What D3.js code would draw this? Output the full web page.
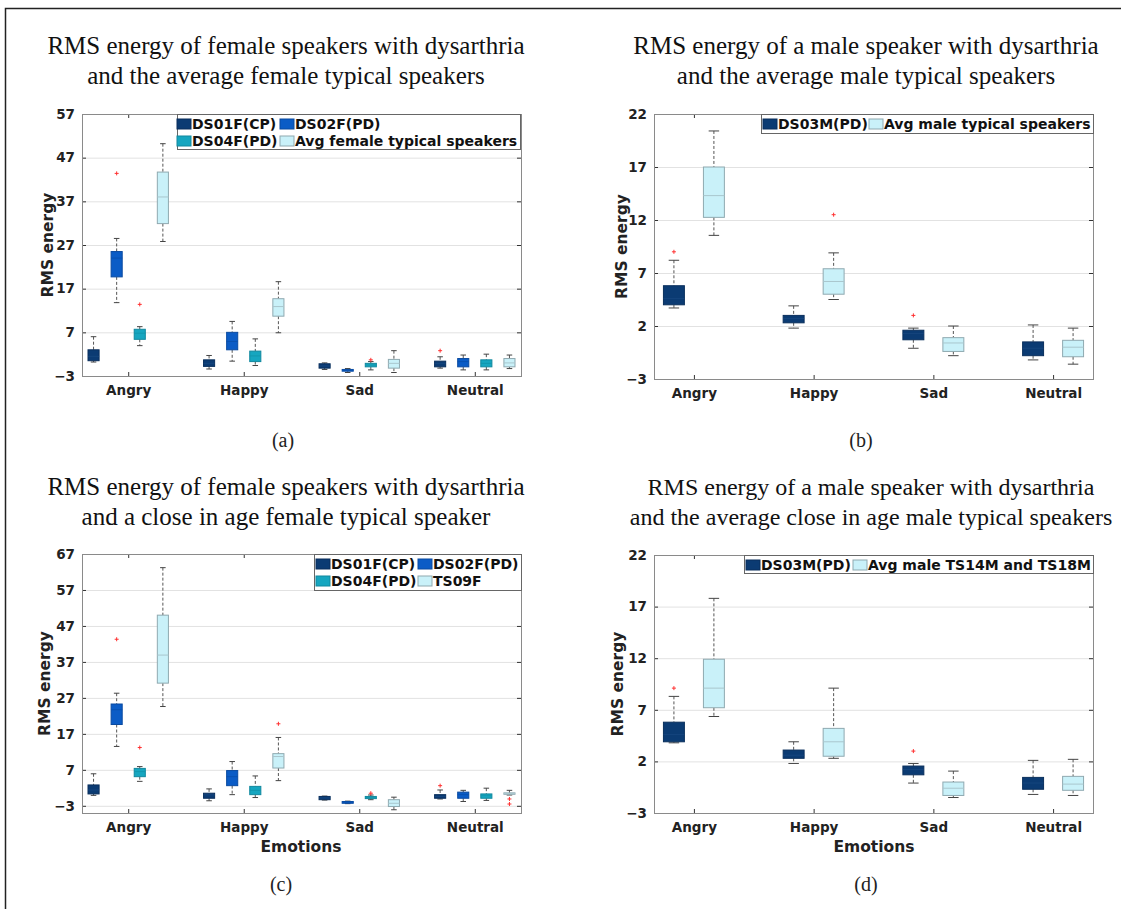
<!DOCTYPE html>
<html>
<head>
<meta charset="utf-8">
<script src="https://cdn.jsdelivr.net/npm/d3@7"></script>
<style>
  body { margin: 0; background: #fff; }
  .tick text { font-family: "DejaVu Sans", sans-serif; font-weight: bold; font-size: 13.5px; fill: #222; }
</style>
</head>
<body>
<div id="chart"></div>
<script>
// categories
const emotions = ["Angry", "Happy", "Sad", "Neutral"];

// box stats per emotion: [lower whisker, q1, median, q3, upper whisker]
// panel (a)
const namesA = ["DS01F(CP)", "DS02F(PD)", "DS04F(PD)", "Avg female typical speakers"];
const a_DS01F = [[0.2, 0.5, 1.5, 3.0, 6.0], [-1.4, -0.8, -0.1, 0.7, 1.7], [-1.5, -1.2, -0.7, -0.2, 0.0], [-1.2, -0.9, -0.1, 0.4, 1.4]];
const a_DS02F = [[13.8, 19.7, 24.0, 25.5, 28.5], [0.4, 3.0, 4.9, 7.0, 9.5], [-2.2, -1.9, -1.7, -1.5, -1.3], [-1.6, -0.9, 0.3, 1.0, 1.8]];
const a_DS04F = [[3.95, 5.4, 6.8, 7.7, 8.3], [-0.6, 0.3, 1.6, 2.7, 5.5], [-1.6, -0.9, -0.5, -0.1, 0.3], [-1.6, -0.9, -0.1, 0.7, 2.0]];
const a_AvgF = [[27.8, 31.9, 38.0, 43.7, 50.2], [6.9, 10.7, 12.9, 14.7, 18.6], [-2.2, -1.2, -0.1, 0.8, 2.8], [-1.3, -0.9, 0.0, 1.0, 1.8]];
// outliers: [series, emotion, value]
const outliersA = [[1, 0, 43.4], [2, 0, 13.4], [2, 2, 0.7], [0, 3, 2.8]];
const ticksA = [-3, 7, 17, 27, 37, 47, 57];

// panel (b)
const namesB = ["DS03M(PD)", "Avg male typical speakers"];
const b_DS03M = [[3.7, 4.0, 4.6, 5.8, 8.2], [1.8, 2.3, 2.7, 3.0, 3.9], [-0.1, 0.7, 1.3, 1.6, 1.8], [-1.2, -0.8, -0.1, 0.5, 2.1]];
const b_AvgM = [[10.55, 12.25, 14.3, 17.0, 20.4], [4.5, 5.0, 6.2, 7.4, 8.9], [-0.8, -0.4, 0.4, 0.9, 2.0], [-1.6, -0.9, 0.0, 0.65, 1.8]];
const outliersB = [[0, 0, 9.0], [1, 1, 12.5], [0, 2, 3.0]];
const ticksB = [-3, 2, 7, 12, 17, 22];

// panel (c)
const namesC = ["DS01F(CP)", "DS02F(PD)", "DS04F(PD)", "TS09F"];
const c_DS01F = [[-0.1, 0.3, 1.4, 2.8, 5.9], [-1.6, -0.9, 0.05, 0.5, 1.7], [-1.4, -1.3, -0.8, -0.4, -0.3], [-1.1, -0.9, -0.4, 0.1, 1.4]];
const c_DS02F = [[13.5, 19.6, 23.7, 25.3, 28.3], [0.1, 2.6, 5.1, 6.8, 9.3], [-2.4, -2.3, -2.0, -1.8, -1.7], [-1.8, -0.9, 0.1, 0.8, 1.3]];
const c_DS04F = [[3.8, 5.1, 6.5, 7.4, 7.9], [-0.7, 0.1, 1.3, 2.4, 5.3], [-1.3, -1.0, -0.7, -0.4, 0.0], [-1.5, -0.9, -0.2, 0.3, 1.9]];
const c_TS09F = [[24.6, 31.1, 38.9, 50.0, 63.2], [4.0, 7.5, 10.7, 11.5, 16.0], [-4.1, -3.2, -2.3, -1.3, -0.6], [0.0, 0.2, 0.4, 0.6, 1.3]];
const outliersC = [[1, 0, 43.3], [2, 0, 13.2], [3, 1, 19.8], [2, 2, 0.5], [0, 3, 2.6], [3, 3, -1.1], [3, 3, -2.5]];
const ticksC = [-3, 7, 17, 27, 37, 47, 57, 67];

// panel (d)
const namesD = ["DS03M(PD)", "Avg male TS14M and TS18M"];
const d_DS03M = [[3.8, 3.9, 4.6, 5.8, 8.3], [1.8, 2.3, 2.6, 3.1, 3.9], [-0.1, 0.7, 1.2, 1.55, 1.8], [-1.2, -0.7, -0.1, 0.45, 2.1]];
const d_AvgM = [[6.35, 7.2, 9.1, 11.9, 17.8], [2.3, 2.5, 3.9, 5.2, 9.1], [-1.5, -1.3, -0.6, 0.0, 1.06], [-1.3, -0.8, -0.2, 0.55, 2.2]];
const outliersD = [[0, 0, 9.1], [0, 2, 3.0]];
const ticksD = [-3, 2, 7, 12, 17, 22];

const navy = "#0b3b73", blue = "#0b5cc6", teal = "#16a6c0", pale = "#c9f1f9";

const W = 1121, H = 909;
const svg = d3.select("#chart").append("svg")
    .attr("width", W).attr("height", H)
    .style("font-family", "DejaVu Sans, sans-serif");
svg.append("rect").attr("width", W).attr("height", H).attr("fill", "#fff");

// outer figure frame
svg.append("path").attr("d", "M5.5,909 V8.5 H1121").attr("fill", "none").attr("stroke", "#222").attr("stroke-width", 1.5);

function drawPanel(p) {
    const g = svg.append("g");
    const x = d3.scaleLinear().domain(p.xDomain).range([p.left, p.right]);
    const y = d3.scaleLinear().domain(p.yDomain).range([p.bottom, p.top]);

    // title & caption
    g.append("text").attr("x", p.titleX).attr("y", p.titleY)
        .attr("text-anchor", "middle")
        .style("font-family", "Liberation Serif, serif").style("font-size", (p.titleSize || 25) + "px").attr("fill", "#111")
        .selectAll("tspan").data(p.title).enter().append("tspan")
        .attr("x", p.titleX).attr("dy", (d, i) => i ? 30 : 0).text(d => d);
    g.append("text").attr("x", p.captionX).attr("y", p.captionY)
        .attr("text-anchor", "middle")
        .style("font-family", "Liberation Serif, serif").style("font-size", "20px").attr("fill", "#222")
        .text(p.caption);

    // grid
    g.selectAll(".grid").data(p.yTicks).enter().append("line")
        .attr("x1", p.left).attr("x2", p.right)
        .attr("y1", d => y(d) + 0.5).attr("y2", d => y(d) + 0.5)
        .attr("stroke", "#e2e2e2");

    // axes
    const yl = g.append("g").attr("transform", `translate(${p.left},0)`)
        .call(d3.axisLeft(y).tickValues(p.yTicks).tickSize(-4).tickSizeOuter(0).tickPadding(7));
    const yr = g.append("g").attr("transform", `translate(${p.right},0)`)
        .call(d3.axisRight(y).tickValues(p.yTicks).tickSize(-4).tickSizeOuter(0).tickFormat(""));
    const xb = g.append("g").attr("transform", `translate(0,${p.bottom})`)
        .call(d3.axisBottom(x).tickValues([1, 2, 3, 4]).tickFormat(i => emotions[i - 1]).tickSize(-4).tickSizeOuter(0).tickPadding(9));
    const xt = g.append("g").attr("transform", `translate(0,${p.top})`)
        .call(d3.axisTop(x).tickValues([1, 2, 3, 4]).tickFormat("").tickSize(-4).tickSizeOuter(0));
    [yl, yr, xb, xt].forEach(a => {
        a.select(".domain").remove();
        a.selectAll(".tick line").attr("stroke", "#333");
    });
    g.append("rect").attr("x", p.left + 0.5).attr("y", p.top + 0.5)
        .attr("width", p.right - p.left).attr("height", p.bottom - p.top)
        .attr("fill", "none").attr("stroke", "#8a8a8a");

    g.append("text")
        .attr("transform", `translate(${p.yLabelX},${(p.top + p.bottom) / 2}) rotate(-90)`)
        .attr("text-anchor", "middle").attr("dy", "0.35em")
        .style("font-size", "15.5px").style("font-weight", "bold").attr("fill", "#222")
        .text("RMS energy");
    if (p.xLabel) {
        g.append("text").attr("x", p.xLabelX).attr("y", p.bottom + 39)
            .attr("text-anchor", "middle")
            .style("font-size", "15.5px").style("font-weight", "bold").attr("fill", "#222")
            .text(p.xLabel);
    }

    // boxes
    const bw = x(1 + p.boxW) - x(1);
    const rows = p.series.flatMap((s, j) => s.stats.map((st, i) => ({
        j, color: s.color, edge: s.edge, med: s.med,
        cx: x(i + 1 + p.offsets[j]),
        lo: st[0], q1: st[1], md: st[2], q3: st[3], hi: st[4]
    })));
    const bx = g.selectAll(".bx").data(rows).enter().append("g");
    bx.append("line").attr("x1", d => d.cx).attr("x2", d => d.cx)
        .attr("y1", d => y(d.hi)).attr("y2", d => y(d.q3))
        .attr("stroke", "#555").attr("stroke-dasharray", "3,2");
    bx.append("line").attr("x1", d => d.cx).attr("x2", d => d.cx)
        .attr("y1", d => y(d.q1)).attr("y2", d => y(d.lo))
        .attr("stroke", "#555").attr("stroke-dasharray", "3,2");
    ["hi", "lo"].forEach(k => {
        bx.append("line").attr("x1", d => d.cx - bw / 4).attr("x2", d => d.cx + bw / 4)
            .attr("y1", d => y(d[k])).attr("y2", d => y(d[k]))
            .attr("stroke", "#444");
    });
    bx.append("rect").attr("x", d => d.cx - bw / 2).attr("width", bw)
        .attr("y", d => y(d.q3)).attr("height", d => Math.max(1, y(d.q1) - y(d.q3)))
        .attr("fill", d => d.color).attr("stroke", d => d.edge);
    bx.append("line").attr("x1", d => d.cx - bw / 2).attr("x2", d => d.cx + bw / 2)
        .attr("y1", d => y(d.md)).attr("y2", d => y(d.md))
        .attr("stroke", d => d.med).attr("stroke-width", 1);

    // outliers
    g.selectAll(".out").data(p.outliers).enter().append("path")
        .attr("d", o => {
            const cx = x(o[1] + 1 + p.offsets[o[0]]), cy = y(o[2]);
            return `M${cx - 2},${cy}H${cx + 2}M${cx},${cy - 2}V${cy + 2}`;
        })
        .attr("stroke", "#ff3030").attr("stroke-width", 1);

    // legend
    const L = p.legend;
    const lg = g.append("g");
    lg.append("rect").attr("x", L.x + 0.5).attr("y", L.y + 0.5).attr("width", L.w).attr("height", L.h)
        .attr("fill", "#fff").attr("stroke", "#666");
    p.series.forEach((s, j) => {
        const col = j % L.cols, row = Math.floor(j / L.cols);
        const lx = L.x + L.colX[col], ly = L.y + 10 + row * L.rowH;
        lg.append("rect").attr("x", lx).attr("y", ly - 5).attr("width", 14).attr("height", 10)
            .attr("fill", s.color).attr("stroke", s.edge);
        lg.append("text").attr("x", lx + 15).attr("y", ly).attr("dy", "0.36em")
            .style("font-size", "14px").style("font-weight", "bold").attr("fill", "#111")
            .text(s.name);
    });
}

const femaleColors = [[navy, "#0a2f5c", "#15457d"], [blue, "#0a4aa0", "#0951b0"], [teal, "#11889e", "#1296ad"], [pale, "#8fa9b0", "#a9c6cd"]];
const maleColors = [[navy, "#0a2f5c", "#15457d"], [pale, "#8fa9b0", "#a9c6cd"]];
const mkSeries = (names, stats, colors) => names.map((n, j) => ({
    name: n, stats: stats[j], color: colors[j][0], edge: colors[j][1], med: colors[j][2]
}));

drawPanel({
    left: 82, right: 521, top: 114, bottom: 376,
    xDomain: [0.6, 4.4], yDomain: [-3, 57], yTicks: ticksA,
    offsets: [-0.3, -0.1, 0.1, 0.3], boxW: 0.096,
    series: mkSeries(namesA, [a_DS01F, a_DS02F, a_DS04F, a_AvgF], femaleColors),
    outliers: outliersA,
    title: ["RMS energy of female speakers with dysarthria", "and the average female typical speakers"],
    titleX: 286, titleY: 54, caption: "(a)", captionX: 283, captionY: 447, yLabelX: 48,
    legend: { x: 177, y: 114, w: 343, h: 35, cols: 2, rowH: 17, colX: [0, 103] }
});
drawPanel({
    left: 654, right: 1093, top: 114, bottom: 379,
    xDomain: [2 / 3, 13 / 3], yDomain: [-3, 22], yTicks: ticksB,
    offsets: [-0.167, 0.167], boxW: 0.175,
    series: mkSeries(namesB, [b_DS03M, b_AvgM], maleColors),
    outliers: outliersB,
    title: ["RMS energy of a male speaker with dysarthria", "and the average male typical speakers"],
    titleX: 866, titleY: 54, caption: "(b)", captionX: 861, captionY: 447, yLabelX: 622,
    legend: { x: 761, y: 114, w: 332, h: 19, cols: 2, rowH: 17, colX: [2, 108] }
});
drawPanel({
    left: 82, right: 521, top: 554, bottom: 813,
    xDomain: [0.6, 4.4], yDomain: [-5, 67], yTicks: ticksC,
    offsets: [-0.3, -0.1, 0.1, 0.3], boxW: 0.096,
    series: mkSeries(namesC, [c_DS01F, c_DS02F, c_DS04F, c_TS09F], femaleColors),
    outliers: outliersC,
    title: ["RMS energy of female speakers with dysarthria", "and a close in age female typical speaker"],
    titleX: 286, titleY: 495, caption: "(c)", captionX: 281, captionY: 891, yLabelX: 45,
    xLabel: "Emotions", xLabelX: 301,
    legend: { x: 314, y: 554, w: 207, h: 36, cols: 2, rowH: 17, colX: [2, 104] }
});
drawPanel({
    left: 654, right: 1093, top: 555, bottom: 813,
    xDomain: [2 / 3, 13 / 3], yDomain: [-3, 22], yTicks: ticksD,
    offsets: [-0.167, 0.167], boxW: 0.175,
    series: mkSeries(namesD, [d_DS03M, d_AvgM], maleColors),
    outliers: outliersD,
    title: ["RMS energy of a male speaker with dysarthria", "and the average close in age male typical speakers"],
    titleX: 871, titleY: 495, titleSize: 24, caption: "(d)", captionX: 866, captionY: 891, yLabelX: 618,
    xLabel: "Emotions", xLabelX: 874,
    legend: { x: 744, y: 555, w: 349, h: 18, cols: 2, rowH: 17, colX: [2, 109] }
});
</script>
</body>
</html>
